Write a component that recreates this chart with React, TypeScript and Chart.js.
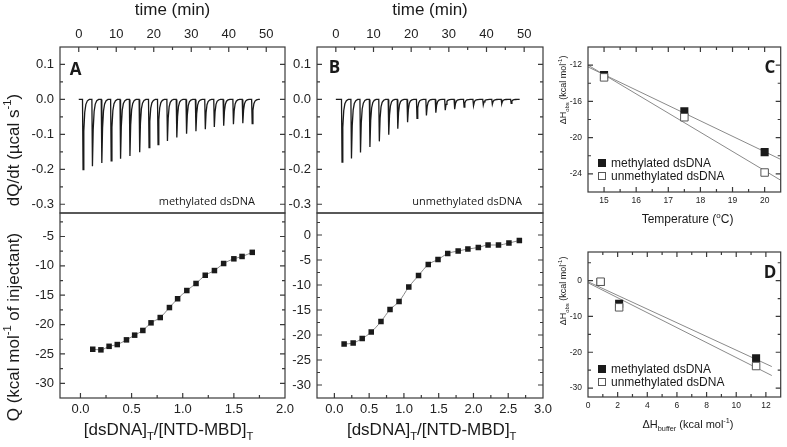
import React, { useEffect, useRef } from 'react';
import { Chart, registerables } from 'chart.js';

Chart.register(...registerables);

const W = 787;
const H = 447;
const SANS = '"Liberation Sans", Arial, Helvetica, sans-serif';
const CAL = '"Open Sans", "Liberation Sans", sans-serif';
const INK = '#1a1a1a';
const FRAME = '#3a3a3a';
const FIT = '#8a8a8a';

// ---------------- data ----------------
// Panel A raw ITC trace (methylated dsDNA): injection times (min) and peak heights (µcal/s)
const A_INJ_TIMES = [1.0, 3.5, 6.0, 8.5, 11.0, 13.5, 16.1, 18.6, 21.0, 23.5, 26.0, 28.6, 31.1, 33.6, 36.0, 38.5, 41.1, 43.6, 46.1];
const A_INJ_PEAKS = [-0.201, -0.191, -0.182, -0.176, -0.170, -0.162, -0.151, -0.138, -0.129, -0.119, -0.109, -0.098, -0.091, -0.085, -0.079, -0.075, -0.071, -0.068, -0.069];
const A_TRACE_END = 48.3;
// Panel B raw ITC trace (unmethylated dsDNA)
const B_INJ_TIMES = [1.5, 4.0, 6.4, 8.9, 11.4, 13.9, 16.3, 18.9, 21.4, 23.9, 26.4, 28.9, 31.4, 33.9, 36.4, 39.0, 41.4, 43.9, 46.4];
const B_INJ_PEAKS = [-0.179, -0.169, -0.152, -0.136, -0.120, -0.101, -0.084, -0.065, -0.054, -0.046, -0.038, -0.031, -0.028, -0.022, -0.018, -0.016, -0.014, -0.012, -0.011];
const B_TRACE_END = 48.8;
// shape of one injection peak (time offsets in min, fraction of peak height)
const SPIKE_DT = [0, 0.15, 0.35, 0.6, 0.9, 1.3, 1.8];
const SPIKE_FRAC = [0, 1, 0.45, 0.18, 0.07, 0.02, 0];

// Integrated heats
const A_RATIO = [0.12, 0.20, 0.28, 0.36, 0.45, 0.53, 0.61, 0.69, 0.78, 0.87, 0.95, 1.04, 1.13, 1.22, 1.31, 1.40, 1.50, 1.58, 1.68];
const A_HEAT = [-24.2, -24.3, -23.7, -23.4, -22.6, -21.8, -21.0, -19.7, -18.8, -17.1, -15.6, -14.2, -13.0, -11.6, -10.8, -9.6, -8.8, -8.4, -7.7];
const B_RATIO = [0.14, 0.27, 0.40, 0.53, 0.67, 0.80, 0.93, 1.07, 1.21, 1.35, 1.49, 1.63, 1.78, 1.92, 2.07, 2.21, 2.36, 2.51, 2.66];
const B_HEAT = [-21.8, -21.6, -20.7, -19.4, -17.3, -14.9, -13.3, -10.4, -8.1, -5.9, -4.9, -3.7, -3.2, -2.8, -2.5, -2.0, -2.0, -1.6, -1.1];

// Panel C: ΔHobs vs temperature
const C_TEMP = [15, 17.5, 20];
const C_METH = [-13.1, -17.1, -21.6];
const C_UNMETH = [-13.35, -17.75, -23.85];
const C_FIT_X = [14.5, 20.5];
const C_FIT_METH = [-12.2, -22.4];
const C_FIT_UNMETH = [-12.0, -24.7];

// Panel D: ΔHobs vs ΔHbuffer
const D_BUFFER = [0.85, 2.1, 11.34];
const D_METH = [-0.4, -6.45, -21.7];
const D_UNMETH = [-0.3, -7.45, -23.85];
const D_FIT_X = [0, 12.4];
const D_FIT_METH = [-0.3, -24.0];
const D_FIT_UNMETH = [-0.6, -26.5];

// tick labels
const TIME_TICKS = [0, 10, 20, 30, 40, 50];
const RATE_TICKS = [0.1, 0, -0.1, -0.2, -0.3];
const A_RATIO_TICKS = [0, 0.5, 1, 1.5, 2];
const B_RATIO_TICKS = [0, 0.5, 1, 1.5, 2, 2.5, 3];
const A_HEAT_TICKS = [-5, -10, -15, -20, -25, -30];
const B_HEAT_TICKS = [0, -5, -10, -15, -20, -25, -30];
const C_TEMP_TICKS = [15, 16, 17, 18, 19, 20];
const C_DH_TICKS = [-12, -16, -20, -24];
const D_BUF_TICKS = [0, 2, 4, 6, 8, 10, 12];
const D_DH_TICKS = [0, -10, -20, -30];

// ---------------- helpers ----------------
type Seg = { t: string; s?: 'sub' | 'sup' };

const Y_TITLE_RATE: Seg[] = [{ t: 'dQ/dt (µcal s' }, { t: '-1', s: 'sup' }, { t: ')' }];
const Y_TITLE_HEAT: Seg[] = [{ t: 'Q (kcal mol' }, { t: '-1', s: 'sup' }, { t: ' of injectant)' }];
const X_TITLE_RATIO: Seg[] = [{ t: '[dsDNA]' }, { t: 'T', s: 'sub' }, { t: '/[NTD-MBD]' }, { t: 'T', s: 'sub' }];
const X_TITLE_TEMP: Seg[] = [{ t: 'Temperature (' }, { t: 'o', s: 'sup' }, { t: 'C)' }];
const X_TITLE_BUF: Seg[] = [{ t: 'ΔH' }, { t: 'buffer', s: 'sub' }, { t: ' (kcal mol' }, { t: '-1', s: 'sup' }, { t: ')' }];
const Y_TITLE_OBS: Seg[] = [{ t: 'ΔH' }, { t: 'obs', s: 'sub' }, { t: ' (kcal mol' }, { t: '-1', s: 'sup' }, { t: ')' }];

function drawRich(
  ctx: CanvasRenderingContext2D,
  segs: Seg[],
  cx: number,
  cy: number,
  size: number,
  rotate = false,
) {
  const small = Math.round(size * 0.66 * 10) / 10;
  ctx.save();
  ctx.translate(cx, cy);
  if (rotate) ctx.rotate(-Math.PI / 2);
  ctx.fillStyle = INK;
  ctx.textBaseline = 'alphabetic';
  ctx.textAlign = 'left';
  const fonts = segs.map((sg) => `${sg.s ? small : size}px ${SANS}`);
  const widths = segs.map((sg, i) => {
    ctx.font = fonts[i];
    return ctx.measureText(sg.t).width;
  });
  const total = widths.reduce((a, b) => a + b, 0);
  let x = -total / 2;
  const base = size * 0.36;
  segs.forEach((sg, i) => {
    ctx.font = fonts[i];
    const dy = sg.s === 'sub' ? size * 0.3 : sg.s === 'sup' ? -size * 0.42 : 0;
    ctx.fillText(sg.t, x, base + dy);
    x += widths[i];
  });
  ctx.restore();
}

function drawLetter(ctx: CanvasRenderingContext2D, s: string, x: number, y: number) {
  ctx.save();
  ctx.font = `bold 17px ${CAL}`;
  ctx.fillStyle = INK;
  ctx.textAlign = 'center';
  ctx.textBaseline = 'middle';
  ctx.fillText(s, x, y);
  ctx.restore();
}

function drawNote(ctx: CanvasRenderingContext2D, s: string, right: number, y: number) {
  ctx.save();
  ctx.font = `11px ${CAL}`;
  ctx.fillStyle = INK;
  ctx.textAlign = 'right';
  ctx.textBaseline = 'middle';
  ctx.fillText(s, right, y);
  ctx.restore();
}

function drawLegend(ctx: CanvasRenderingContext2D, x: number, y1: number, y2: number) {
  ctx.save();
  ctx.fillStyle = INK;
  ctx.fillRect(x - 4, y1 - 4, 8, 8);
  ctx.fillStyle = '#fff';
  ctx.strokeStyle = '#555';
  ctx.lineWidth = 1;
  ctx.fillRect(x - 3.5, y2 - 3.5, 7, 7);
  ctx.strokeRect(x - 3.5, y2 - 3.5, 7, 7);
  ctx.font = `12px ${SANS}`;
  ctx.fillStyle = INK;
  ctx.textAlign = 'left';
  ctx.textBaseline = 'middle';
  ctx.fillText('methylated dsDNA', x + 9, y1 + 0.5);
  ctx.fillText('unmethylated dsDNA', x + 9, y2 + 0.5);
  ctx.restore();
}

function buildTrace(times: number[], peaks: number[], end: number) {
  const pts: { x: number; y: number }[] = [{ x: 0, y: 0 }];
  times.forEach((t, i) => {
    SPIKE_DT.forEach((dt, k) => pts.push({ x: t + dt, y: peaks[i] * SPIKE_FRAC[k] }));
  });
  pts.push({ x: end, y: 0 });
  return pts;
}

const zip = (xs: number[], ys: number[]) => xs.map((x, i) => ({ x, y: ys[i] }));

interface AxisSpec {
  min: number;
  max: number;
  ticks: number[];
  minor: number;
  digits: number;
  font: number;
  pad: number;
}

interface PanelSpec {
  l: number;
  r: number;
  t: number;
  b: number;
  xTop: boolean;
  xSides: ('top' | 'bottom')[];
  x: AxisSpec;
  y: AxisSpec;
  xTitle?: string;
  datasets: any[];
  decorate?: (ctx: CanvasRenderingContext2D) => void;
}

function tickMarks(ax: AxisSpec): [number, number][] {
  const out: [number, number][] = ax.ticks.map((v) => [v, 5] as [number, number]);
  const start = Math.ceil((ax.min - 1e-9) / ax.minor);
  for (let k = start; k * ax.minor <= ax.max + 1e-9; k++) {
    const v = k * ax.minor;
    if (!ax.ticks.some((m) => Math.abs(m - v) < 1e-6)) out.push([v, 3]);
  }
  return out;
}

function buildConfig(p: PanelSpec): any {
  const zeroPad = (s: any) => {
    s.paddingLeft = 0;
    s.paddingRight = 0;
    s.paddingTop = 0;
    s.paddingBottom = 0;
  };
  const axisOpts = (ax: AxisSpec, fit: (s: any) => void) => ({
    type: 'linear',
    min: ax.min,
    max: ax.max,
    grid: { display: false, drawTicks: false },
    border: { display: false },
    ticks: {
      autoSkip: false,
      maxRotation: 0,
      padding: ax.pad,
      color: '#222',
      font: { family: SANS, size: ax.font },
      callback: (v: number) => (Math.abs(v) < 1e-9 ? 0 : v).toFixed(ax.digits),
    },
    afterBuildTicks: (s: any) => {
      s.ticks = ax.ticks.map((value) => ({ value }));
    },
    afterFit: (s: any) => {
      fit(s);
      zeroPad(s);
    },
  });

  const framePlugin = {
    id: 'frameTicks',
    afterDatasetsDraw(chart: any) {
      const { ctx, chartArea } = chart;
      const { left, right, top, bottom } = chartArea;
      const xs = chart.scales.x;
      const ys = chart.scales.y;
      ctx.save();
      ctx.strokeStyle = FRAME;
      ctx.lineWidth = 1.2;
      ctx.strokeRect(left, top, right - left, bottom - top);
      ctx.beginPath();
      for (const [v, len] of tickMarks(p.x)) {
        const px = xs.getPixelForValue(v);
        if (px <= left + 0.5 || px >= right - 0.5) continue;
        if (p.xSides.includes('top')) {
          ctx.moveTo(px, top);
          ctx.lineTo(px, top + len);
        }
        if (p.xSides.includes('bottom')) {
          ctx.moveTo(px, bottom);
          ctx.lineTo(px, bottom - len);
        }
      }
      for (const [v, len] of tickMarks(p.y)) {
        const py = ys.getPixelForValue(v);
        if (py <= top + 0.5 || py >= bottom - 0.5) continue;
        ctx.moveTo(left, py);
        ctx.lineTo(left + len, py);
        ctx.moveTo(right, py);
        ctx.lineTo(right - len, py);
      }
      ctx.stroke();
      ctx.restore();
      if (p.decorate) p.decorate(ctx);
    },
  };

  return {
    type: 'scatter',
    data: { datasets: p.datasets },
    options: {
      responsive: false,
      maintainAspectRatio: false,
      animation: false,
      devicePixelRatio: 1,
      events: [],
      layout: {
        padding: {
          left: 0,
          right: W - p.r,
          top: p.xTop ? 0 : p.t,
          bottom: p.xTop ? H - p.b : 0,
        },
      },
      plugins: { legend: { display: false }, tooltip: { enabled: false } },
      scales: {
        x: {
          ...axisOpts(p.x, (s: any) => {
            s.height = p.xTop ? p.t : H - p.b;
          }),
          position: p.xTop ? 'top' : 'bottom',
          title: p.xTitle
            ? { display: true, text: p.xTitle, color: INK, padding: 0, font: { family: SANS, size: 17 } }
            : { display: false },
        },
        y: {
          ...axisOpts(p.y, (s: any) => {
            s.width = p.l;
          }),
          position: 'left',
        },
      },
    },
    plugins: [framePlugin],
  };
}

const traceDataset = (data: { x: number; y: number }[]) => ({
  data,
  showLine: true,
  borderColor: INK,
  borderWidth: 1.3,
  pointRadius: 0,
  tension: 0,
});

const heatDataset = (xs: number[], ys: number[]) => ({
  data: zip(xs, ys),
  showLine: true,
  borderColor: FIT,
  borderWidth: 1,
  cubicInterpolationMode: 'monotone',
  pointStyle: 'rect',
  pointRadius: 3.9,
  pointBackgroundColor: INK,
  pointBorderColor: INK,
  pointBorderWidth: 0,
});

const openPts = (xs: number[], ys: number[]) => ({
  data: zip(xs, ys),
  showLine: false,
  pointStyle: 'rect',
  pointRadius: 5.3,
  pointBackgroundColor: '#fff',
  pointBorderColor: '#555',
  pointBorderWidth: 1,
});
const filledPts = (xs: number[], ys: number[]) => ({
  data: zip(xs, ys),
  showLine: false,
  pointStyle: 'rect',
  pointRadius: 5.7,
  pointBackgroundColor: INK,
  pointBorderColor: INK,
  pointBorderWidth: 0,
});
const fitLine = (xs: number[], ys: number[]) => ({
  data: zip(xs, ys),
  showLine: true,
  borderColor: FIT,
  borderWidth: 1,
  pointRadius: 0,
});

// ---------------- panels ----------------
const TIME_AXIS: AxisSpec = { min: -5, max: 55, ticks: TIME_TICKS, minor: 5, digits: 0, font: 13, pad: 5 };
const RATE_AXIS: AxisSpec = { min: -0.325, max: 0.15, ticks: RATE_TICKS, minor: 0.05, digits: 1, font: 13, pad: 6 };

const A_TOP: PanelSpec = {
  l: 60, r: 285, t: 47, b: 213, xTop: true, xSides: ['top'],
  x: TIME_AXIS, y: RATE_AXIS, xTitle: 'time (min)',
  datasets: [traceDataset(buildTrace(A_INJ_TIMES, A_INJ_PEAKS, A_TRACE_END))],
  decorate: (ctx) => {
    drawRich(ctx, Y_TITLE_RATE, 12.5, 150, 17, true);
    drawLetter(ctx, 'A', 75.5, 70.5);
    drawNote(ctx, 'methylated dsDNA', 255, 202);
  },
};

const A_BOTTOM: PanelSpec = {
  l: 60, r: 285, t: 213, b: 398, xTop: false, xSides: ['bottom'],
  x: { min: -0.2, max: 2.0, ticks: A_RATIO_TICKS, minor: 0.25, digits: 1, font: 13, pad: 4 },
  y: { min: -32.5, max: -1, ticks: A_HEAT_TICKS, minor: 2.5, digits: 0, font: 13, pad: 6 },
  datasets: [heatDataset(A_RATIO, A_HEAT)],
  decorate: (ctx) => {
    drawRich(ctx, Y_TITLE_HEAT, 12.5, 327, 17, true);
    drawRich(ctx, X_TITLE_RATIO, 168.5, 428.5, 17);
  },
};

const B_TOP: PanelSpec = {
  l: 317, r: 543, t: 47, b: 213, xTop: true, xSides: ['top'],
  x: TIME_AXIS, y: RATE_AXIS, xTitle: 'time (min)',
  datasets: [traceDataset(buildTrace(B_INJ_TIMES, B_INJ_PEAKS, B_TRACE_END))],
  decorate: (ctx) => {
    drawLetter(ctx, 'B', 334.5, 68);
    drawNote(ctx, 'unmethylated dsDNA', 522, 202);
  },
};

const B_BOTTOM: PanelSpec = {
  l: 317, r: 543, t: 213, b: 398, xTop: false, xSides: ['bottom'],
  x: { min: -0.25, max: 3.0, ticks: B_RATIO_TICKS, minor: 0.25, digits: 1, font: 13, pad: 4 },
  y: { min: -32.6, max: 4.4, ticks: B_HEAT_TICKS, minor: 2.5, digits: 0, font: 13, pad: 6 },
  datasets: [heatDataset(B_RATIO, B_HEAT)],
  decorate: (ctx) => {
    drawRich(ctx, X_TITLE_RATIO, 431.7, 428.5, 17);
  },
};

const C_PANEL: PanelSpec = {
  l: 588, r: 786, t: 47, b: 192, xTop: false, xSides: ['top', 'bottom'],
  x: { min: 14.5, max: 20.5, ticks: C_TEMP_TICKS, minor: 0.5, digits: 0, font: 8.5, pad: 4 },
  y: { min: -26, max: -10, ticks: C_DH_TICKS, minor: 2, digits: 0, font: 8.5, pad: 6 },
  datasets: [
    openPts(C_TEMP, C_UNMETH),
    filledPts(C_TEMP, C_METH),
    fitLine(C_FIT_X, C_FIT_METH),
    fitLine(C_FIT_X, C_FIT_UNMETH),
  ],
  decorate: (ctx) => {
    drawLetter(ctx, 'C', 770, 68);
    drawLegend(ctx, 602, 163, 176);
    drawRich(ctx, X_TITLE_TEMP, 687.5, 219, 12);
    drawRich(ctx, Y_TITLE_OBS, 563, 90, 9, true);
  },
};

const D_PANEL: PanelSpec = {
  l: 588, r: 786, t: 252, b: 397, xTop: false, xSides: ['top', 'bottom'],
  x: { min: 0, max: 13, ticks: D_BUF_TICKS, minor: 1, digits: 0, font: 8.5, pad: 4 },
  y: { min: -32.5, max: 8, ticks: D_DH_TICKS, minor: 5, digits: 0, font: 8.5, pad: 6 },
  datasets: [
    openPts(D_BUFFER, D_UNMETH),
    filledPts(D_BUFFER, D_METH),
    fitLine(D_FIT_X, D_FIT_METH),
    fitLine(D_FIT_X, D_FIT_UNMETH),
  ],
  decorate: (ctx) => {
    drawLetter(ctx, 'D', 770, 273);
    drawLegend(ctx, 602, 369, 382);
    drawRich(ctx, X_TITLE_BUF, 688, 424, 11);
    drawRich(ctx, Y_TITLE_OBS, 563, 291, 9, true);
  },
};

const PANELS: PanelSpec[] = [A_TOP, A_BOTTOM, B_TOP, B_BOTTOM, C_PANEL, D_PANEL];

function Panel({ spec }: { spec: PanelSpec }) {
  const ref = useRef<HTMLCanvasElement | null>(null);
  useEffect(() => {
    if (!ref.current) return;
    const chart = new Chart(ref.current, buildConfig(spec));
    return () => chart.destroy();
  }, [spec]);
  return (
    <canvas
      ref={ref}
      width={W}
      height={H}
      style={{ position: 'absolute', left: 0, top: 0, width: W, height: H }}
    />
  );
}

export default function App() {
  return (
    <div
      style={{
        position: 'absolute',
        left: 0,
        top: 0,
        width: W,
        height: H,
        background: '#fff',
        overflow: 'hidden',
      }}
    >
      {PANELS.map((s, i) => (
        <Panel key={i} spec={s} />
      ))}
    </div>
  );
}
